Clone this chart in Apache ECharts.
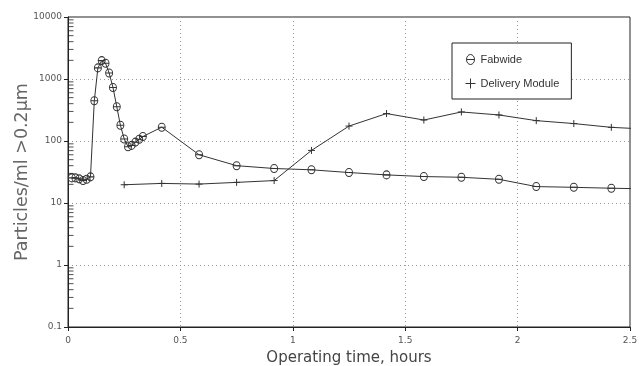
<!DOCTYPE html>
<html>
<head>
<meta charset="utf-8">
<script src="https://cdn.jsdelivr.net/npm/echarts@6/dist/echarts.min.js"></script>
<style>
  html, body { margin: 0; padding: 0; background: #fff; }
  #chart { width: 641px; height: 366px; }
</style>
</head>
<body>
<div id="chart"></div>
<script>
// ---- data ----
var fabwideTime  = [0.017, 0.033, 0.05, 0.067, 0.083, 0.1, 0.117, 0.133, 0.15, 0.167, 0.183, 0.2, 0.217, 0.233, 0.25, 0.267, 0.283, 0.3, 0.317, 0.333, 0.417, 0.583, 0.75, 0.917, 1.083, 1.25, 1.417, 1.583, 1.75, 1.917, 2.083, 2.25, 2.417, 2.583];
var fabwideValue = [25.4, 25.4, 24.5, 23.1, 24.2, 26.4, 445, 1510, 1980, 1790, 1250, 731, 356, 180, 108, 81, 85, 96, 107, 118, 167, 60, 40, 36, 34.3, 31, 28.4, 26.7, 26, 24.1, 18.4, 17.9, 17.3, 16.9];
var deliveryTime  = [0.25, 0.417, 0.583, 0.75, 0.917, 1.083, 1.25, 1.417, 1.583, 1.75, 1.917, 2.083, 2.25, 2.417, 2.583];
var deliveryValue = [19.7, 20.7, 20.2, 21.5, 23, 70.5, 174, 277, 218, 294, 263, 213, 191, 166, 155];
var seriesNames = ['Fabwide', 'Delivery Module'];
var xTickLabels = ['0', '0.5', '1', '1.5', '2', '2.5'];
var yTickLabels = ['0.1', '1', '10', '100', '1000', '10000'];
var xTitle = 'Operating time, hours';
var yTitle = 'Particles/ml >0.2\u00b5m';

function pairs(xs, ys) { return xs.map(function (x, i) { return [x, ys[i]]; }); }

// minor tick positions of the log axis (2..9 within each decade)
var minorTicks = [];
for (var d = -1; d < 4; d++) {
  for (var m = 2; m <= 9; m++) minorTicks.push([0, m * Math.pow(10, d)]);
}

var thetaPath = 'path://M1,5A4,5 0 1,1 9,5A4,5 0 1,1 1,5ZM1,5L9,5';
var plusPath = 'path://M5,0L5,10M0,5L10,5';
var ink = '#333';
var font = 'DejaVu Sans';

var chart = echarts.init(document.getElementById('chart'), null, { renderer: 'canvas' });
chart.setOption({
  backgroundColor: '#fff',
  animation: false,
  textStyle: { fontFamily: font },
  grid: { left: 68, right: 11, top: 17, bottom: 39, show: true, borderColor: '#222', borderWidth: 1,
          backgroundColor: 'transparent', containLabel: false, outerBoundsMode: 'none' },
  legend: {
    orient: 'vertical',
    left: 452, top: 43,
    padding: [11, 12, 10, 13],
    itemGap: 13,
    itemWidth: 10, itemHeight: 10,
    backgroundColor: '#fff',
    borderColor: '#222', borderWidth: 1,
    textStyle: { fontFamily: 'Liberation Sans', fontSize: 11, color: '#333' },
    itemStyle: { color: 'rgba(0,0,0,0)', borderColor: ink, borderWidth: 1 },
    data: [
      { name: seriesNames[0], icon: thetaPath },
      { name: seriesNames[1], icon: plusPath }
    ],
    z: 10
  },
  xAxis: {
    type: 'value', min: 0, max: 2.5, interval: 0.5,
    name: xTitle, nameLocation: 'middle', nameGap: 24, nameMoveOverlap: false,
    nameTextStyle: { fontSize: 15, color: '#444', fontFamily: font },
    axisLine: { show: true, lineStyle: { color: '#222', width: 1 } },
    axisTick: { show: true, length: 4, lineStyle: { color: '#222' } },
    axisLabel: { fontSize: 9, color: '#555', margin: 9,
      formatter: function (v) { var i = Math.round(v / 0.5); return xTickLabels[i] !== undefined ? xTickLabels[i] : ''; } },
    splitLine: { show: true, lineStyle: { color: '#999', type: [1, 3], width: 1 } }
  },
  yAxis: {
    type: 'log', logBase: 10, min: 0.1, max: 10000,
    name: yTitle, nameLocation: 'middle', nameGap: 37, nameRotate: 90, nameMoveOverlap: false,
    nameTextStyle: { fontSize: 17.5, color: '#666', fontFamily: font },
    axisLine: { show: true, lineStyle: { color: '#222', width: 1 } },
    axisTick: { show: true, length: 4, lineStyle: { color: '#222' } },
    axisLabel: { fontSize: 9, color: '#555', margin: 6,
      formatter: function (v) { var i = Math.round(Math.log10(v)) + 1; return yTickLabels[i] !== undefined ? yTickLabels[i] : ''; } },
    splitLine: { show: true, lineStyle: { color: '#999', type: [1, 3], width: 1 } }
  },
  series: [
    {
      name: seriesNames[0], type: 'line', data: pairs(fabwideTime, fabwideValue),
      symbol: thetaPath, symbolSize: [7, 8], showAllSymbol: true, clip: true,
      lineStyle: { color: ink, width: 1 },
      itemStyle: { color: 'rgba(0,0,0,0)', borderColor: ink, borderWidth: 1 },
      z: 3
    },
    {
      name: seriesNames[1], type: 'line', data: pairs(deliveryTime, deliveryValue),
      symbol: plusPath, symbolSize: 7, showAllSymbol: true, clip: true,
      lineStyle: { color: ink, width: 1 },
      itemStyle: { color: 'rgba(0,0,0,0)', borderColor: ink, borderWidth: 1 },
      z: 3
    },
    {
      name: 'minorTicks', type: 'scatter', data: minorTicks, silent: true, clip: false,
      symbol: 'rect', symbolSize: [5, 1], symbolOffset: [3, 0],
      itemStyle: { color: '#222' }, z: 4, tooltip: { show: false }
    }
  ]
});
</script>
</body>
</html>
